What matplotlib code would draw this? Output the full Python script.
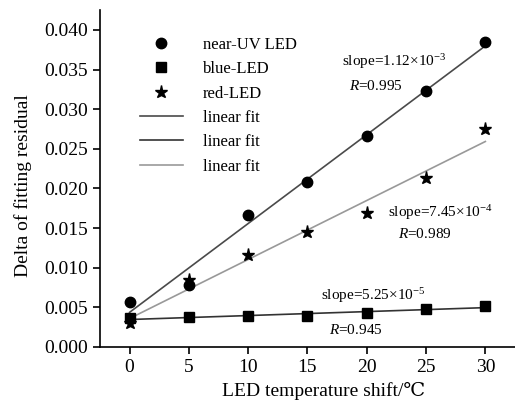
import numpy as np
import matplotlib
matplotlib.use("Agg")
import matplotlib.pyplot as plt
from matplotlib.lines import Line2D

plt.rcParams['font.family'] = ['Liberation Serif', 'DejaVu Serif', 'DejaVu Sans']
plt.rcParams['mathtext.fontset'] = 'custom'
plt.rcParams['mathtext.rm'] = 'Liberation Serif'
plt.rcParams['mathtext.it'] = 'Liberation Serif:italic'

temp_shift = [0, 5, 10, 15, 20, 25, 30]
near_uv = [0.00572, 0.00783, 0.01667, 0.02075, 0.0266, 0.03224, 0.03843]
blue = [0.00362, 0.00383, 0.00391, 0.00391, 0.00425, 0.00476, 0.00522]
red = [0.00307, 0.00846, 0.01162, 0.01448, 0.01688, 0.0213, 0.02749]

x_ticks = [0, 5, 10, 15, 20, 25, 30]
y_ticks = [0.000, 0.005, 0.010, 0.015, 0.020, 0.025, 0.030, 0.035, 0.040]
legend_labels = ["near-UV LED", "blue-LED", "red-LED", "linear fit", "linear fit", "linear fit"]
annotations = [
    (17.9, 0.0360, r"slope=1.12×10$^{\mathregular{-3}}$"),
    (18.5, 0.03295, r"$R$=0.995"),
    (21.8, 0.01692, r"slope=7.45×10$^{\mathregular{-4}}$"),
    (22.6, 0.01427, r"$R$=0.989"),
    (16.1, 0.00644, r"slope=5.25×10$^{\mathregular{-5}}$"),
    (16.8, 0.00215, r"$R$=0.945"),
]

fig = plt.figure(figsize=(5.15, 4.03), dpi=100)
ax = fig.add_axes([0.194, 0.139, 0.806, 0.836])

x = np.array(temp_shift, dtype=float)
xf = np.array([x.min(), x.max()])
fit_colors = ['#4a4a4a', '#333333', '#999999']
for ys, col in zip([near_uv, blue, red], fit_colors):
    p = np.polyfit(x, ys, 1)
    ax.plot(xf, np.polyval(p, xf), color=col, lw=1.2, zorder=2)

ax.plot(x, near_uv, 'o', color='black', ms=7.5, zorder=3)
ax.plot(x, blue, 's', color='black', ms=6.5, zorder=3)
ax.plot(x, red, '*', color='black', ms=9.5, zorder=3)

for tx, ty, s in annotations:
    ax.text(tx, ty, s, fontsize=11, ha='left', va='center')

handles = [
    Line2D([], [], ls='none', marker='o', color='black', ms=7.5),
    Line2D([], [], ls='none', marker='s', color='black', ms=6.5),
    Line2D([], [], ls='none', marker='*', color='black', ms=9.5),
    Line2D([], [], color=fit_colors[0], lw=1.2),
    Line2D([], [], color=fit_colors[1], lw=1.2),
    Line2D([], [], color=fit_colors[2], lw=1.2),
]
ax.legend(handles, legend_labels, loc='upper left', bbox_to_anchor=(0.06, 0.965),
          frameon=False, fontsize=12, handlelength=2.6, labelspacing=0.5,
          handletextpad=1.2)

ax.set_xlim(-2.5, 32.5)
ax.set_ylim(0, 0.0425)
ax.set_xticks(x_ticks)
ax.set_yticks(y_ticks)
ax.set_yticklabels([f"{v:.3f}" for v in y_ticks])
ax.spines['top'].set_visible(False)
ax.spines['right'].set_visible(False)
for sp in ['left', 'bottom']:
    ax.spines[sp].set_linewidth(1.2)
ax.tick_params(direction='out', length=5, width=1.2, labelsize=14)
ax.set_xlabel("LED temperature shift/℃", fontsize=14, labelpad=4)
ax.set_ylabel("Delta of fitting residual", fontsize=14, labelpad=6)
ax.xaxis.set_label_coords(0.54, -0.105)
ax.yaxis.set_label_coords(-0.163, 0.478)

fig.savefig("out.png", dpi=100)
